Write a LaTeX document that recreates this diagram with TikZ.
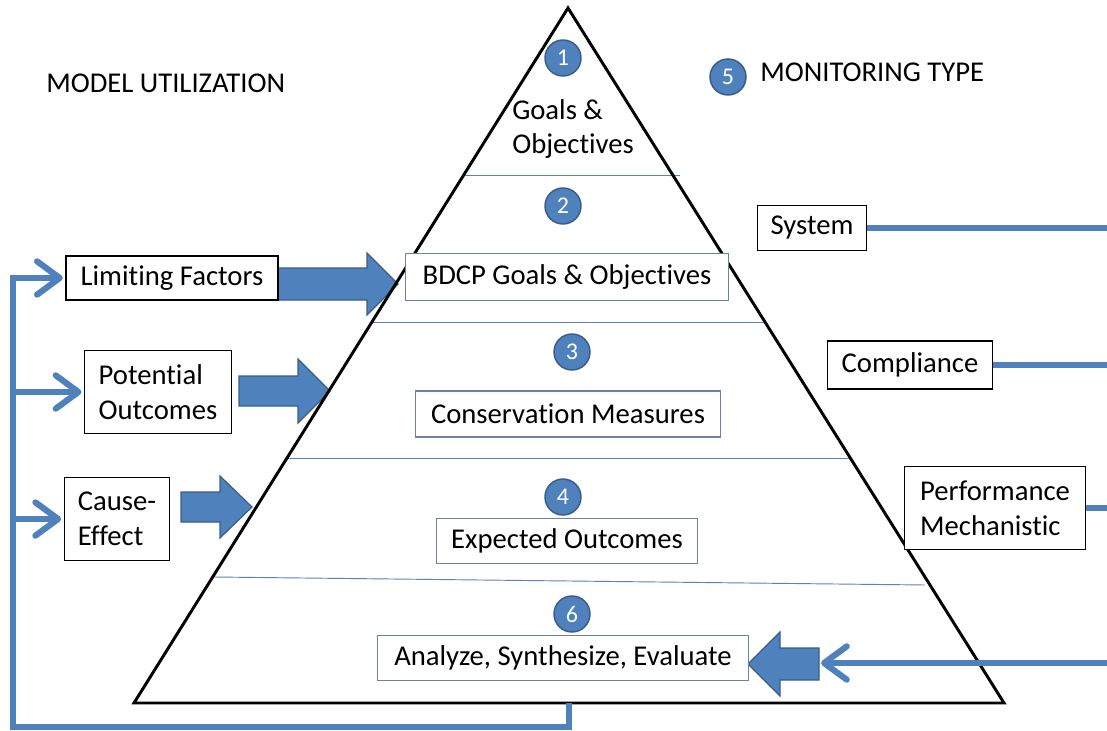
\documentclass[tikz,border=0pt]{standalone}
\usepackage{fontspec}
\setmainfont{Carlito}[Ligatures=NoCommon]
\usetikzlibrary{arrows.meta}
\definecolor{bblue}{RGB}{79,129,189}
\definecolor{bdark}{RGB}{56,93,138}
\definecolor{boxgray}{RGB}{110,130,160}
\definecolor{divline}{RGB}{90,130,185}
\newcommand\blockarr[6]{%
  \filldraw[barrow] (#1,{#4-#5}) -- (#2,{#4-#5}) -- (#2,{#4-#6}) -- (#3,#4) -- (#2,{#4+#6}) -- (#2,{#4+#5}) -- (#1,{#4+#5}) -- cycle;}
\tikzset{
  lbl/.style={font=\fontsize{21.5}{26}\selectfont, inner sep=0pt},
  box/.style={draw=black, line width=0.8pt, fill=white, lbl, align=left},
  ibox/.style={draw=boxgray, line width=0.8pt, fill=white, lbl},
  num/.style={circle, fill=bblue, draw=bdark, line width=1.1pt, minimum size=27pt, inner sep=0pt, text=white, font=\fontsize{18}{18}\selectfont},
  flow/.style={draw=bblue, line width=4.6pt, line join=miter},
  chev/.style={-{Straight Barb[length=17pt,width=25pt,round]}},
  barrow/.style={fill=bblue, draw=bdark, line width=0.9pt, line join=miter},
  divider/.style={draw=divline, line width=0.7pt},
}
\begin{document}
\begin{tikzpicture}[x=0.75pt,y=-0.75pt]
\useasboundingbox (0,0) rectangle (1107,731);
\coordinate (R) at (1107,0);
\coordinate (L) at (13,0);
\coordinate (Y6) at (0,663);

% divider lines
\draw[divider] (463,175) -- (680,175);
\draw[divider] (372,322) -- (765,322);
\draw[divider] (288,458) -- (849,458);
\draw[divider] (214,577) -- (925,585);

% block arrows
\blockarr{278}{367}{398}{284}{16}{31}
\blockarr{239}{298}{330}{391}{15}{32}
\blockarr{181}{220}{252}{507}{15}{31}
\blockarr{819}{780}{748}{664}{16}{32}

% triangle
\draw[line width=2.2pt, line join=miter] (568,8) -- (1004,703) -- (134,703) -- cycle;
\coordinate (bot) at (569,703);
\coordinate (bl) at (569,727);
\coordinate (blL) at (13,727);
\coordinate (tip6) at (821,663);

% titles
\node[lbl, anchor=west] (mu) at (46,83) {MODEL UTILIZATION};
\node[num] (n5) at (728,77) {5};
\node[lbl, anchor=west] (mt) at (760,72) {MONITORING TYPE};

% numbers
\node[num] (n1) at (563,58) {1};
\node[num] (n2) at (563,206) {2};
\node[num] (n3) at (572,352) {3};
\node[num] (n4) at (563,497) {4};
\node[num] (n6) at (572,614) {6};

\node[lbl, anchor=west, align=left] (goals) at (512,129) {Goals \&\\Objectives};

% inner boxes
\node[ibox, minimum width=242pt, minimum height=35pt] (bdcp) at (567,277) {BDCP Goals \& Objectives};
\node[ibox, minimum width=229pt, minimum height=34.5pt] (cons) at (568,414) {Conservation Measures};
\node[ibox, minimum width=196pt, minimum height=33.75pt] (exp) at (567,541) {Expected Outcomes};
\node[ibox, minimum width=278pt, minimum height=33.75pt] (ana) at (563,658) {Analyze, Synthesize, Evaluate};

% left boxes
\node[box, minimum width=159pt, minimum height=33pt] (lim) at (172,278) {Limiting Factors};
\node[box, minimum width=110pt, minimum height=62pt] (pot) at (158,392) {Potential\\Outcomes};
\node[box, minimum width=79pt, minimum height=62pt] (cause) at (117,519) {Cause-\\Effect};

% right boxes
\node[box, minimum width=82pt, minimum height=33.75pt] (sys) at (812,228) {System};
\node[box, minimum width=124pt, minimum height=36pt] (comp) at (910,365) {Compliance};
\node[box, minimum width=136pt, minimum height=62pt] (perf) at (995,508) {Performance\\Mechanistic};

% right lines
\draw[flow] (sys.east) -- (sys.east -| R);
\draw[flow] (comp.east) -- (comp.east -| R);
\draw[flow] (perf.east) -- (perf.east -| R);
\draw[flow, chev] (R |- Y6) -- (tip6);

% left feedback loop
\draw[flow, chev] (bot) -- (bl) -- (blL) -- (L |- lim.west) -- ([xshift=-2pt]lim.west);
\draw[flow, chev] (L |- pot.west) -- ([xshift=-2pt]pot.west);
\draw[flow, chev] (L |- cause.west) -- ([xshift=-2pt]cause.west);
\end{tikzpicture}
\end{document}
